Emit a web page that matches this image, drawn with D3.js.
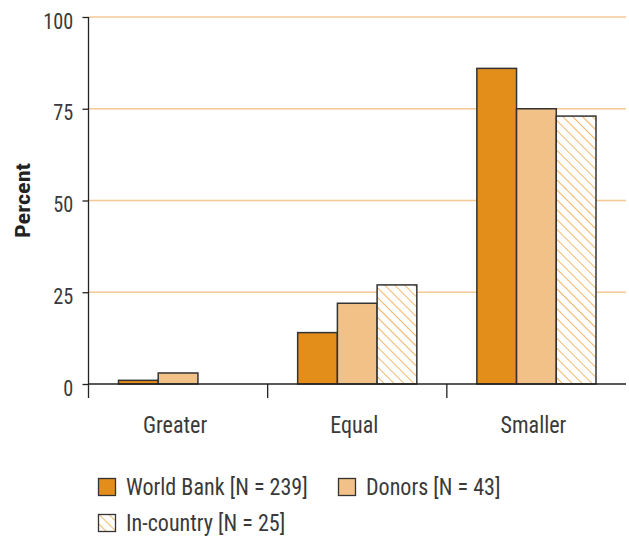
<!DOCTYPE html>
<html><head><meta charset="utf-8">
<script src="https://cdn.jsdelivr.net/npm/d3@7"></script>
<style>
body{margin:0;background:#fff;}
text{font-family:"Liberation Sans Narrow","Roboto Condensed","Arial Narrow",sans-serif;fill:#3a3a3a;}
</style></head>
<body><svg id="c" width="629" height="539"></svg>
<script>
const categories = ["Greater","Equal","Smaller"];
const seriesNames = ["World Bank [N = 239]","Donors [N = 43]","In-country [N = 25]"];
const worldBank = [1, 14, 86];
const donors = [3, 22, 75];
const inCountry = [0, 27, 73];
const yTicks = [0, 25, 50, 75, 100];

(function(){
const svg = d3.select("#c");
const SX = 0.92;
const defs = svg.append("defs");
const pat = defs.append("pattern").attr("id","hatch").attr("patternUnits","userSpaceOnUse")
  .attr("width",7).attr("height",7).attr("patternTransform","rotate(-45)");
pat.append("rect").attr("width",7).attr("height",7).attr("fill","#fff");
pat.append("line").attr("x1",0).attr("y1",0).attr("x2",0).attr("y2",7)
  .attr("stroke","#EFA345").attr("stroke-width",1.6);

const mL = 88.5, mR = 626, mT = 17, mB = 384;
const x = d3.scaleBand().domain(categories).range([mL, mR]);
const xs = d3.scaleBand().domain([0,1,2]).range([30, x.bandwidth()-30]);
const y = d3.scaleLinear().domain([0,100]).range([mB, mT]);
const fills = ["#E38D1B","#F2C187","url(#hatch)"];
const data = [worldBank, donors, inCountry];

svg.append("g").selectAll("line").data(yTicks.filter(d=>d>0)).join("line")
  .attr("x1",mL).attr("x2",mR).attr("y1",d=>y(d)).attr("y2",d=>y(d))
  .attr("stroke","#F5C894").attr("stroke-width",1.3);

data.forEach((vals, si) => {
  svg.append("g").selectAll("rect").data(categories.map((c,i)=>({c, v: vals[i]})).filter(d=>d.v>0))
    .join("rect")
    .attr("x", d => x(d.c) + xs(si))
    .attr("width", xs.bandwidth())
    .attr("y", d => y(d.v))
    .attr("height", d => y(0) - y(d.v))
    .attr("fill", fills[si])
    .attr("stroke","#333").attr("stroke-width",1.5);
});

const ya = svg.append("g").attr("transform",`translate(${mL},0)`)
  .call(d3.axisLeft(y).tickValues(yTicks).tickSize(6));
ya.select(".domain").remove();
ya.selectAll(".tick line").attr("stroke","#222").attr("stroke-width",1.3);
ya.selectAll(".tick text").attr("x",0).attr("dy",null).attr("y",11)
  .attr("transform",`translate(-15.2,0) scale(${SX},1)`)
  .attr("font-size",22).attr("font-family",null).style("fill","#3a3a3a");
svg.append("line").attr("x1",mL).attr("x2",mL).attr("y1",mT).attr("y2",398)
  .attr("stroke","#222").attr("stroke-width",1.3);

svg.append("line").attr("x1",mL).attr("x2",mR).attr("y1",mB).attr("y2",mB)
  .attr("stroke","#222").attr("stroke-width",1.3);
svg.append("g").selectAll("line").data(categories.slice(1)).join("line")
  .attr("x1",d=>x(d)).attr("x2",d=>x(d)).attr("y1",mB).attr("y2",398)
  .attr("stroke","#222").attr("stroke-width",1.3);
svg.append("g").selectAll("text").data(categories).join("text")
  .attr("transform",d=>`translate(${x(d)+x.bandwidth()/2 - 3},433) scale(${SX},1)`)
  .attr("text-anchor","middle").attr("font-size",24).text(d=>d);

svg.append("text").attr("transform","translate(30,200.5) rotate(-90)")
  .attr("text-anchor","middle").attr("font-size",20).attr("font-weight","bold")
  .attr("textLength",75).attr("lengthAdjust","spacingAndGlyphs")
  .style("fill","#222").text("Percent");

const legPos = [[98,478],[338,478],[98,514]];
seriesNames.forEach((n,i)=>{
  const g = svg.append("g").attr("transform",`translate(${legPos[i][0]},${legPos[i][1]})`);
  g.append("rect").attr("x",0.5).attr("y",0.5).attr("width",17).attr("height",17).attr("fill",fills[i])
    .attr("stroke","#333").attr("stroke-width",1.3);
  g.append("text").attr("transform",`translate(28,17) scale(${SX},1)`).attr("font-size",24).text(n);
});
})();
</script></body></html>
